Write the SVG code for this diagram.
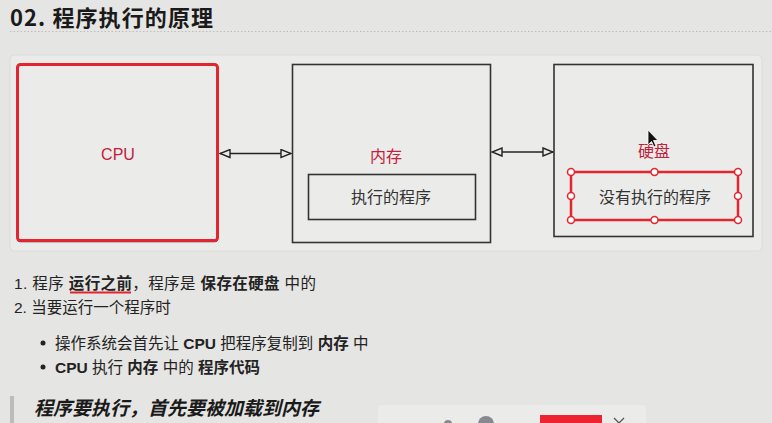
<svg xmlns="http://www.w3.org/2000/svg" width="772" height="423" viewBox="0 0 772 423">
<defs>
<style>
text{font-family:"Liberation Sans","Noto Sans CJK SC",sans-serif;}
.cjk{font-family:"Noto Sans CJK SC","Liberation Sans",sans-serif;}
.box{fill:#ebebea;stroke:#333;stroke-width:1.6;}
.lbl{fill:#c0213c;font-size:16px;text-anchor:middle;}
.inner{fill:#333;font-size:16px;text-anchor:middle;}
.body{fill:#222;font-size:15.5px;}
.b{font-weight:bold;}
.conn{stroke:#222;stroke-width:1.5;fill:none;}
.handle{fill:#fff;stroke:#e3252f;stroke-width:1.5;}
</style>
<marker id="tri" viewBox="0 0 12 10" refX="11" refY="5" markerWidth="12" markerHeight="10" markerUnits="userSpaceOnUse" orient="auto-start-reverse">
<path d="M1,1 L11,5 L1,9 Z" fill="#ebebea" stroke="#222" stroke-width="1.4"/>
</marker>
</defs>
<rect x="0" y="0" width="772" height="423" fill="#e5e5e3"/>
<text x="10" y="25.5" class="cjk b" font-size="22" fill="#1a1a1a" textLength="203" lengthAdjust="spacing">02. 程序执行的原理</text>
<line x1="10" y1="31.5" x2="772" y2="31.5" stroke="#bdbdbb" stroke-width="1" stroke-dasharray="1.5,2"/>
<rect x="10" y="55" width="752" height="196" rx="4" fill="#ebebea" stroke="#dcdcda" stroke-width="1"/>

<g id="cpu">
<rect x="17.5" y="64.5" width="200" height="177" rx="3" fill="#ebebea" stroke="#333" stroke-width="1.4"/>
<rect x="17.5" y="64.5" width="200" height="176" rx="3" fill="#ebebea" stroke="#e3252f" stroke-width="3"/>
<text x="118" y="160" class="lbl">CPU</text>
</g>

<g id="memory">
<rect x="292.5" y="64.5" width="198" height="178" class="box"/>
<text x="386" y="162" class="lbl cjk">内存</text>
<g id="running-program">
<rect x="308.5" y="174.5" width="167" height="45" class="box"/>
<text x="391" y="203" class="inner cjk">执行的程序</text>
</g>
</g>

<g id="disk">
<rect x="554" y="64.5" width="199" height="172" class="box"/>
<text x="654" y="157" class="lbl cjk">硬盘</text>
<g id="stored-program">
<rect x="571" y="172" width="167" height="48" fill="#ebebea" stroke="#e3252f" stroke-width="2.5"/>
<text x="655" y="203" class="inner cjk">没有执行的程序</text>
<circle cx="571" cy="172" r="3.5" class="handle"/>
<circle cx="654.5" cy="172" r="3.5" class="handle"/>
<circle cx="738" cy="172" r="3.5" class="handle"/>
<circle cx="571" cy="196" r="3.5" class="handle"/>
<circle cx="738" cy="196" r="3.5" class="handle"/>
<circle cx="571" cy="220" r="3.5" class="handle"/>
<circle cx="654.5" cy="220" r="3.5" class="handle"/>
<circle cx="738" cy="220" r="3.5" class="handle"/>
</g>
<path d="M648,130 L648,145 L651.5,141.5 L654,147 L656,146 L653.5,140.5 L658,140.5 Z" fill="#111" stroke="#fff" stroke-width="0.8"/>
</g>

<g id="connectors">
<line x1="220" y1="153.5" x2="291" y2="153.5" class="conn" marker-start="url(#tri)" marker-end="url(#tri)"/>
<line x1="492" y1="152" x2="553" y2="152" class="conn" marker-start="url(#tri)" marker-end="url(#tri)"/>
</g>

<g class="cjk body">
<text x="14" y="289" textLength="302" lengthAdjust="spacing">1. 程序 <tspan class="b">运行之前</tspan>，程序是 <tspan class="b">保存在硬盘</tspan> 中的</text>
<line x1="70" y1="292.5" x2="131" y2="292.5" stroke="#e3252f" stroke-width="2"/>
<text x="14" y="313">2. 当要运行一个程序时</text>
<circle cx="43" cy="343" r="2.5" fill="#222"/>
<text x="55" y="349">操作系统会首先让 <tspan class="b">CPU</tspan> 把程序复制到 <tspan class="b">内存</tspan> 中</text>
<circle cx="43" cy="367" r="2.5" fill="#222"/>
<text x="55" y="373"><tspan class="b">CPU</tspan> 执行 <tspan class="b">内存</tspan> 中的 <tspan class="b">程序代码</tspan></text>
</g>

<rect x="10" y="396" width="4" height="27" fill="#bcbcba"/>
<text x="34" y="415" class="cjk b" font-size="19" font-style="italic" fill="#1a1a1a">程序要执行，首先要被加载到内存</text>

<rect x="378" y="405" width="268" height="22" rx="3" fill="#ebebea"/>
<circle cx="448" cy="424" r="4" fill="#888890"/>
<circle cx="486" cy="424" r="8" fill="#888890"/>
<rect x="540" y="415" width="62" height="12" fill="#ee2230"/>
<path d="M614,418 L624,428 M624,418 L614,428" stroke="#555" stroke-width="1.3"/>
</svg>
